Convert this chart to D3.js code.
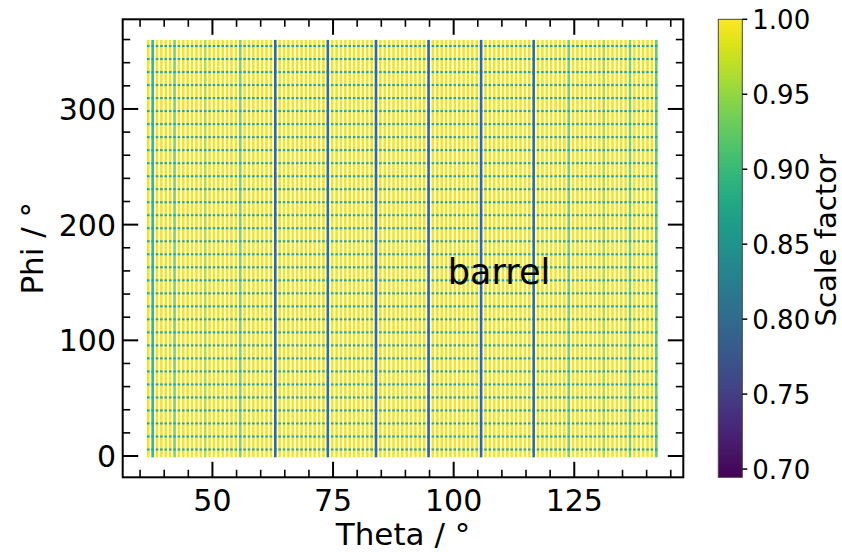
<!DOCTYPE html>
<html>
<head>
<meta charset="utf-8">
<script src="https://cdn.jsdelivr.net/npm/d3@7"></script>
<style>
  body { margin: 0; background: #fff; }
  text { font-family: "DejaVu Sans", sans-serif; fill: #000; }
</style>
</head>
<body>
<div id="chart"></div>
<script>
// theta grid of the barrel columns (deg)
const thetaFirst = 36.7;
const thetaLast = 142.0;
const nTheta = 117;
// phi grid (deg)
const phiStep = 1.40625;
const nPhi = 256;

// columns with a scale factor below 1 : [theta, value]
const lowColumns = [
  [37.5, 0.90], [42.6, 0.945], [48.3, 0.97], [55.4, 0.945],
  [63.4, 0.80], [73.5, 0.81], [84.3, 0.80], [95.2, 0.80],
  [106.0, 0.80], [116.2, 0.81],
  [124.1, 0.945], [130.9, 0.97], [137.0, 0.945], [142.0, 0.93]
];
// phi rows with a lower scale factor
const lowRows = [
  5.63, 16.88, 28.13, 39.38, 50.63, 61.88, 73.13, 84.38,
  95.63, 106.88, 118.13, 129.38, 140.63, 151.88, 163.13, 174.38,
  185.63, 196.88, 208.13, 219.38, 230.63, 241.88, 253.13, 264.38,
  275.63, 286.88, 298.13, 309.38, 320.63, 331.88, 343.13, 354.38
];
const lowRowValue = 0.88;
const baseValue = 0.995;

const xTicks = [50, 75, 100, 125];
const xMinor = [35, 40, 45, 55, 60, 65, 70, 80, 85, 90, 95, 105, 110, 115, 120, 130, 135, 140, 145];
const yTicks = [0, 100, 200, 300];
const yMinor = [-20, 20, 40, 60, 80, 120, 140, 160, 180, 220, 240, 260, 280, 320, 340, 360];
const cbTicks = [0.70, 0.75, 0.80, 0.85, 0.90, 0.95, 1.00];
const vmin = 0.6945, vmax = 1.0;

const W = 842, H = 552;
const plot = { left: 122.7, right: 683.3, top: 19.3, bottom: 477.3 };
const cb = { left: 718.3, right: 742.3 };

const svg = d3.select("#chart").append("svg")
  .attr("width", W).attr("height", H)
  .style("background", "#fff");

const x = d3.scaleLinear().domain([31.4, 147.6]).range([plot.left, plot.right]);
const y = d3.scaleLinear().domain([-18.4, 377.5]).range([plot.bottom, plot.top]);
const color = d3.scaleSequential(d3.interpolateViridis).domain([vmin, vmax]);

// build the grid
const thetas = d3.range(nTheta).map(i => thetaFirst + i * (thetaLast - thetaFirst) / (nTheta - 1));
const phis = d3.range(nPhi).map(i => i * phiStep);
const colValues = thetas.map(() => baseValue);
lowColumns.forEach(([t, v]) => {
  const i = d3.minIndex(thetas, d => Math.abs(d - t));
  colValues[i] = v;
});
const columns = thetas.map((t, i) => ({ theta: t, value: colValues[i] }));

const cell = 2.6; // marker size, px

const g = svg.append("g");
g.selectAll("rect.col")
  .data(columns)
  .enter().append("rect")
  .attr("class", "col")
  .attr("x", d => x(d.theta) - cell / 2)
  .attr("width", cell)
  .attr("y", y(phis[nPhi - 1]) - cell / 2)
  .attr("height", y(phis[0]) - y(phis[nPhi - 1]) + cell)
  .attr("fill", d => color(d.value));

const dots = [];
lowRows.forEach(p => columns.forEach(c => dots.push({ theta: c.theta, phi: p, value: Math.min(c.value, lowRowValue) })));
g.selectAll("rect.dot")
  .data(dots)
  .enter().append("rect")
  .attr("class", "dot")
  .attr("x", d => x(d.theta) - cell / 2)
  .attr("width", cell)
  .attr("y", d => y(d.phi) - 1)
  .attr("height", 2)
  .attr("fill", d => color(d.value));

// text label
svg.append("text")
  .attr("x", x(98.8)).attr("y", y(149))
  .style("font-size", "35px")
  .text("barrel");

// frame and inward ticks
const axes = svg.append("g").attr("stroke", "#000");
function tickLines(vals, len, w) {
  vals.forEach(v => {
    const px = x(v);
    if (px < plot.left || px > plot.right) return;
    axes.append("line").attr("x1", px).attr("x2", px).attr("y1", plot.bottom).attr("y2", plot.bottom - len).attr("stroke-width", w);
    axes.append("line").attr("x1", px).attr("x2", px).attr("y1", plot.top).attr("y2", plot.top + len).attr("stroke-width", w);
  });
}
function tickLinesY(vals, len, w) {
  vals.forEach(v => {
    const py = y(v);
    if (py < plot.top || py > plot.bottom) return;
    axes.append("line").attr("y1", py).attr("y2", py).attr("x1", plot.left).attr("x2", plot.left + len).attr("stroke-width", w);
    axes.append("line").attr("y1", py).attr("y2", py).attr("x1", plot.right).attr("x2", plot.right - len).attr("stroke-width", w);
  });
}
tickLines(xTicks, 15.5, 2);
tickLines(xMinor, 7.5, 1.6);
tickLinesY(yTicks, 15.5, 2);
tickLinesY(yMinor, 7.5, 1.6);
axes.append("rect")
  .attr("x", plot.left).attr("y", plot.top)
  .attr("width", plot.right - plot.left).attr("height", plot.bottom - plot.top)
  .attr("fill", "none").attr("stroke-width", 2);

svg.selectAll("text.xt")
  .data(xTicks).enter().append("text")
  .attr("x", d => x(d)).attr("y", 511)
  .attr("text-anchor", "middle")
  .style("font-size", "30px")
  .text(d => d);
svg.selectAll("text.yt")
  .data(yTicks).enter().append("text")
  .attr("x", 116).attr("y", d => y(d) + 11)
  .attr("text-anchor", "end")
  .style("font-size", "30px")
  .text(d => d);

svg.append("text")
  .attr("x", (plot.left + plot.right) / 2).attr("y", 545)
  .attr("text-anchor", "middle")
  .style("font-size", "31px")
  .text("Theta / °");
svg.append("text")
  .attr("transform", `translate(43,${(plot.top + plot.bottom) / 2}) rotate(-90)`)
  .attr("text-anchor", "middle")
  .style("font-size", "31px")
  .text("Phi / °");

// colour bar
const cy = d3.scaleLinear().domain([vmin, vmax]).range([plot.bottom, plot.top]);
const defs = svg.append("defs");
const grad = defs.append("linearGradient").attr("id", "vir")
  .attr("x1", 0).attr("x2", 0).attr("y1", 1).attr("y2", 0);
d3.range(0, 1.0001, 0.05).forEach(t => {
  grad.append("stop").attr("offset", t).attr("stop-color", d3.interpolateViridis(t));
});
svg.append("rect")
  .attr("x", cb.left).attr("y", plot.top)
  .attr("width", cb.right - cb.left).attr("height", plot.bottom - plot.top)
  .attr("fill", "url(#vir)")
  .attr("stroke", "#444").attr("stroke-width", 1);
const cbAxis = svg.append("g").attr("transform", `translate(${cb.right},0)`);
cbTicks.forEach(v => {
  cbAxis.append("line").attr("x1", 0).attr("x2", 5).attr("y1", cy(v)).attr("y2", cy(v))
    .attr("stroke", "#000").attr("stroke-width", 1.5);
  cbAxis.append("text").attr("x", 10).attr("y", cy(v) + 9.5)
    .style("font-size", "26px")
    .text(v.toFixed(2));
});
svg.append("text")
  .attr("transform", `translate(836,${(plot.top + plot.bottom) / 2 - 8}) rotate(-90)`)
  .attr("text-anchor", "middle")
  .style("font-size", "29px")
  .text("Scale factor");
</script>
</body>
</html>
